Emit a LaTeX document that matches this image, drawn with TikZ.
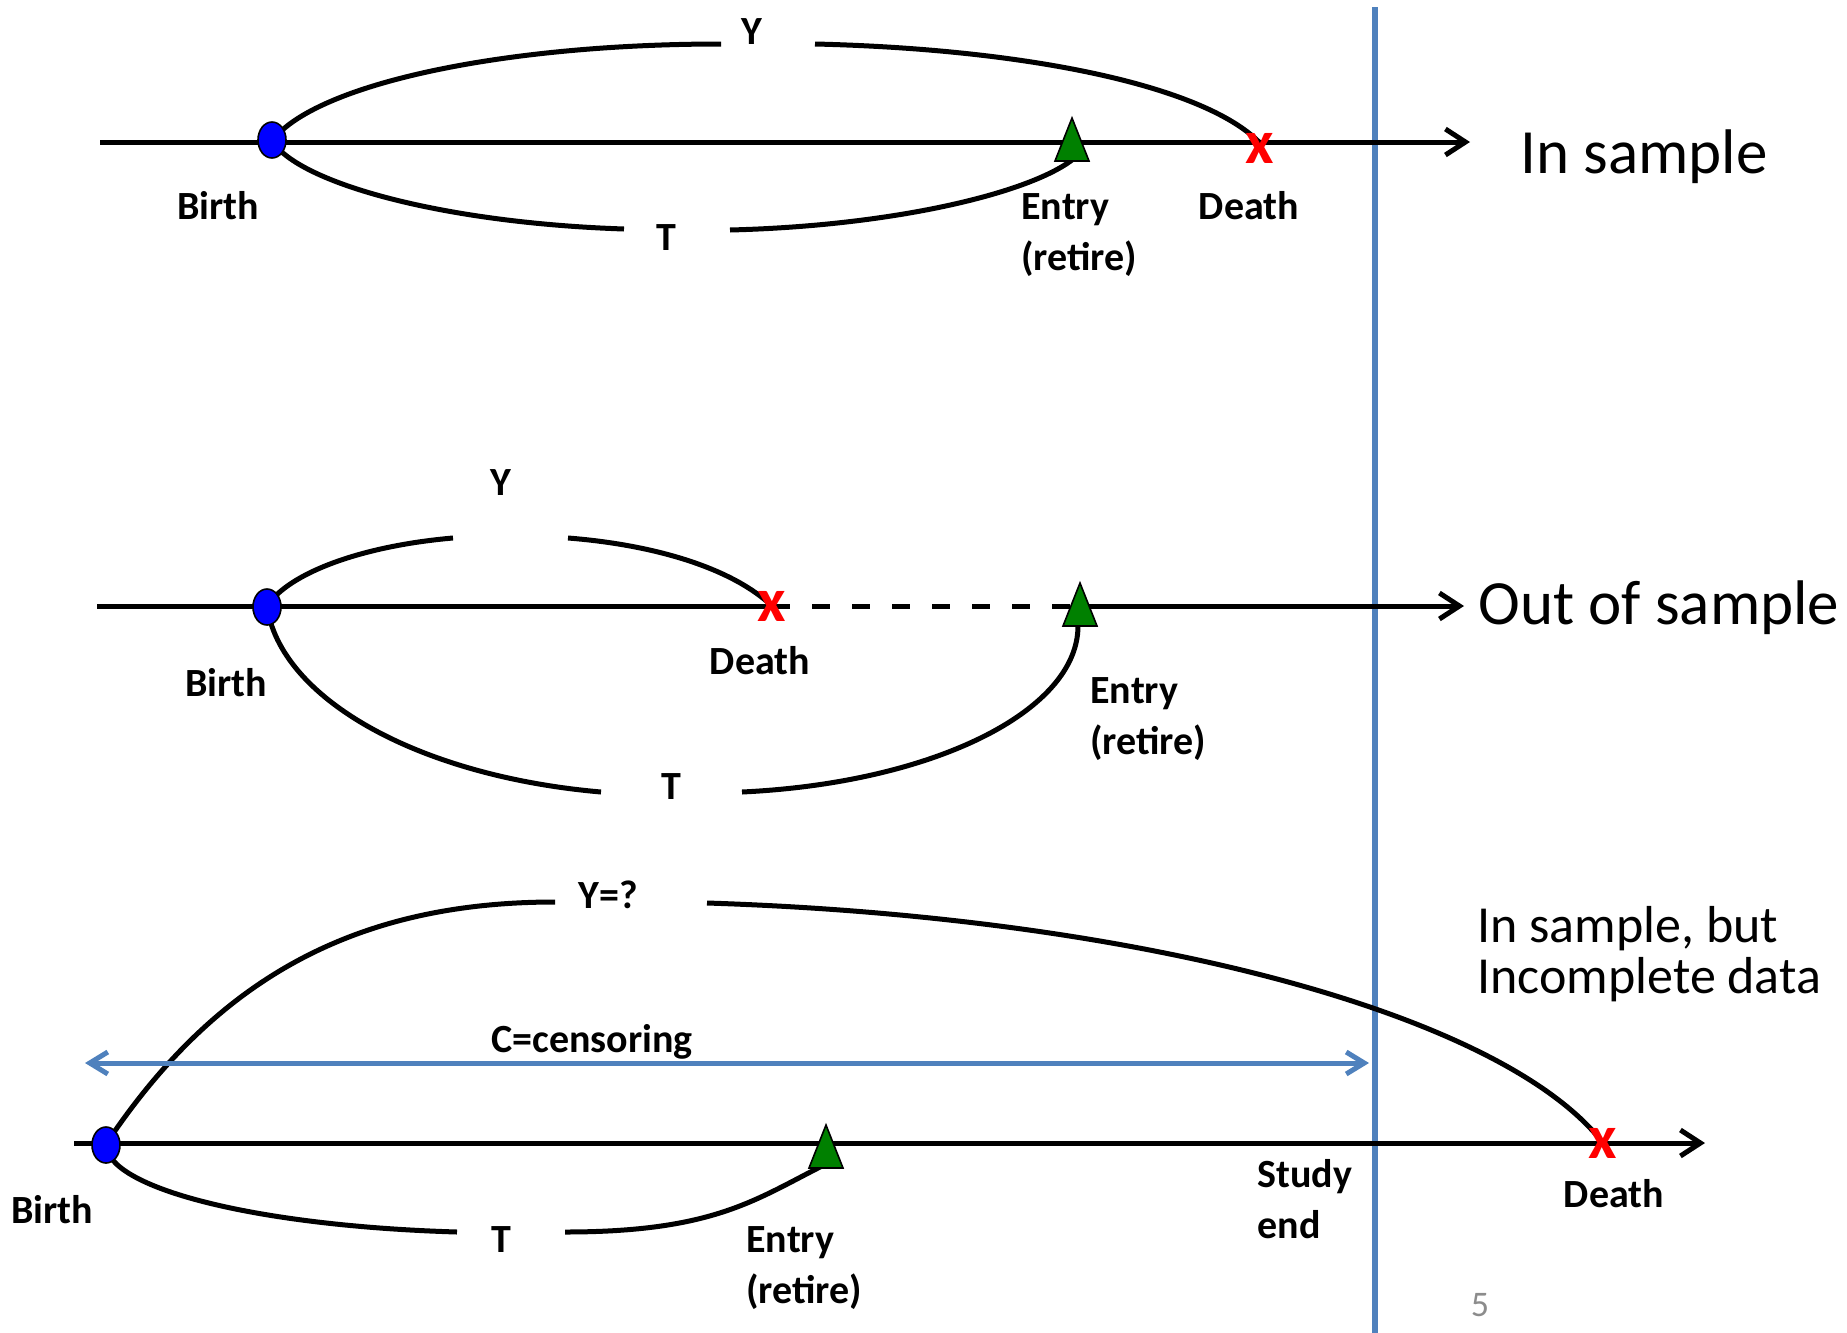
\documentclass[tikz,border=0pt]{standalone}
\usepackage{fontspec}
\setmainfont{Carlito}
\usepackage{tikz}
\usetikzlibrary{arrows.meta,shapes.geometric}
\definecolor{birthblue}{HTML}{0000FF}
\definecolor{entrygreen}{HTML}{008000}
\definecolor{deathred}{HTML}{FF0000}
\definecolor{studyblue}{HTML}{4F81BD}
\definecolor{pagegray}{HTML}{8C8C8C}

\begin{document}
\begin{tikzpicture}[
  x=0.5pt, y=-0.5pt,
  axis/.style={line width=2.5pt, draw=black},
  axisarr/.style={axis, -{Straight Barb[length=10pt, width=13pt]}},
  life/.style={line width=2.5pt, draw=black},
  birthdot/.style={ellipse, draw=black, line width=0.8pt, fill=birthblue, minimum width=14pt, minimum height=18pt, inner sep=0pt},
  entrytri/.style={draw=black, line width=0.8pt, fill=entrygreen},
  deathx/.style={text=deathred, font=\fontsize{31}{31}\selectfont\bfseries, inner sep=0pt},
  lbl/.style={font=\fontsize{20}{25.5}\selectfont\bfseries, inner sep=0pt, align=left},
  note/.style={font=\fontsize{31.5}{38}\selectfont, inner sep=0pt},
  study/.style={line width=3pt, draw=studyblue},
  cens/.style={line width=2.5pt, draw=studyblue, {Straight Barb[length=9pt, width=11pt]}-{Straight Barb[length=9pt, width=11pt]}}
]
\useasboundingbox (0,0) rectangle (1847,1333);

% points on the three time lines
\coordinate (ax1s) at (100,142);  \coordinate (ax1e) at (1470,142);
\coordinate (b1) at (272,141);    \coordinate (d1) at (1259,142);
\coordinate (e1b) at (1072,160);
\coordinate (y1l) at (721,44);    \coordinate (y1r) at (815,44);
\coordinate (t1l) at (624,229);   \coordinate (t1r) at (730,230);

\coordinate (ax2s) at (97,606);   \coordinate (ax2e) at (1464,606);
\coordinate (b2) at (267,606);    \coordinate (d2) at (772,606);
\coordinate (e2) at (1080,606);   \coordinate (e2b) at (1078,626);
\coordinate (y2l) at (453,538);   \coordinate (y2r) at (568,538);
\coordinate (t2l) at (601,792);   \coordinate (t2r) at (742,792);

\coordinate (ax3s) at (74,1143);  \coordinate (ax3e) at (1705,1143);
\coordinate (b3) at (106,1144);   \coordinate (d3) at (1603,1143);
\coordinate (e3b) at (826,1164);
\coordinate (y3l) at (555,902);   \coordinate (y3r) at (707,903);
\coordinate (t3l) at (457,1232);  \coordinate (t3r) at (565,1232);

\coordinate (studytop) at (1375,7); \coordinate (studybot) at (1375,1333);
\coordinate (censl) at (85,1063);   \coordinate (censr) at (1369,1063);

\draw[study] (studytop) -- (studybot);

% time axes
\draw[axisarr] (ax1s) -- (ax1e);
\draw[axis] (ax2s) -- (d2);
\draw[axis, dash pattern=on 9pt off 11pt] (d2) -- (e2);
\draw[axisarr] (e2) -- (ax2e);
\draw[axisarr] (ax3s) -- (ax3e);

% life spans Y and T
\draw[life] (b1) .. controls +(43,-57) and +(-218,0) .. (y1l);
\draw[life] (y1r) .. controls +(210,5) and +(-57,-57) .. (d1);
\draw[life] (b1) .. controls +(28,43) and +(-179,-6) .. (t1l);
\draw[life] (t1r) .. controls +(161,-4) and +(-45,34) .. (e1b);

\draw[life] (b2) .. controls +(22,-33) and +(-92,8) .. (y2l);
\draw[life] (y2r) .. controls +(89,7) and +(-39,-37) .. (d2);
\draw[life] (b2) .. controls +(13,92) and +(-184,-16) .. (t2l);
\draw[life] (t2r) .. controls +(191,-9) and +(0,85) .. (e2b);

\draw[life] (b3) .. controls +(110,-165) and +(-200,0) .. (y3l);
\draw[life] (y3r) .. controls +(437,14) and +(-99,-128) .. (d3);
\draw[life] (b3) .. controls +(0,44) and +(-202,-6) .. (t3l);
\draw[life] (t3r) .. controls +(150,0) and +(-70,35) .. (e3b);

\draw[cens] (censl) -- (censr);

% markers
\node[birthdot] (birth1) at (272,140) {};
\node[birthdot] (birth2) at (267,607) {};
\node[birthdot] (birth3) at (106,1145) {};
\foreach \ex/\ey in {1072/118, 1080/583, 826/1125}
  \draw[entrytri] (\ex,\ey) -- ++(17,43) -- ++(-34,0) -- cycle;
\node[deathx] (death1) at (1260,148) {x};
\node[deathx] (death2) at (772,606) {x};
\node[deathx] (death3) at (1603,1143) {x};

% labels
\node[lbl] (ylbl1) at (752,32) {Y};
\node[lbl] (tlbl1) at (666,238) {T};
\node[lbl] (birthlbl1) at (218,206) {Birth};
\node[lbl, anchor=north west] (entrylbl1) at (1021,193) {Entry\\(retire)};
\node[lbl] (deathlbl1) at (1249,206) {Death};
\node[note, anchor=base west] (insample) at (1520,173) {In sample};

\node[lbl] (ylbl2) at (501,483) {Y};
\node[lbl] (tlbl2) at (671,787) {T};
\node[lbl] (birthlbl2) at (226,683) {Birth};
\node[lbl] (deathlbl2) at (760,661) {Death};
\node[lbl, anchor=north west] (entrylbl2) at (1090,677) {Entry\\(retire)};
\node[note, anchor=base west] (outsample) at (1478,624) {Out of sample};

\node[lbl] (ylbl3) at (608,895) {Y=?};
\node[lbl] (tlbl3) at (501,1240) {T};
\node[lbl] (censlbl) at (592,1042) {C=censoring};
\node[lbl] (birthlbl3) at (52,1210) {Birth};
\node[lbl, anchor=north west] (entrylbl3) at (746,1226) {Entry\\(retire)};
\node[lbl, anchor=north west] (studylbl) at (1257,1159) {Study\\end};
\node[lbl] (deathlbl3) at (1614,1194) {Death};
\node[note, font=\fontsize{26}{25.5}\selectfont, anchor=north west, align=left] (incomplete) at (1477,906) {In sample, but\\Incomplete data};
\node[font=\fontsize{18}{18}\selectfont, text=pagegray, inner sep=0pt] (pagenum) at (1480,1305) {5};
\end{tikzpicture}
\end{document}
